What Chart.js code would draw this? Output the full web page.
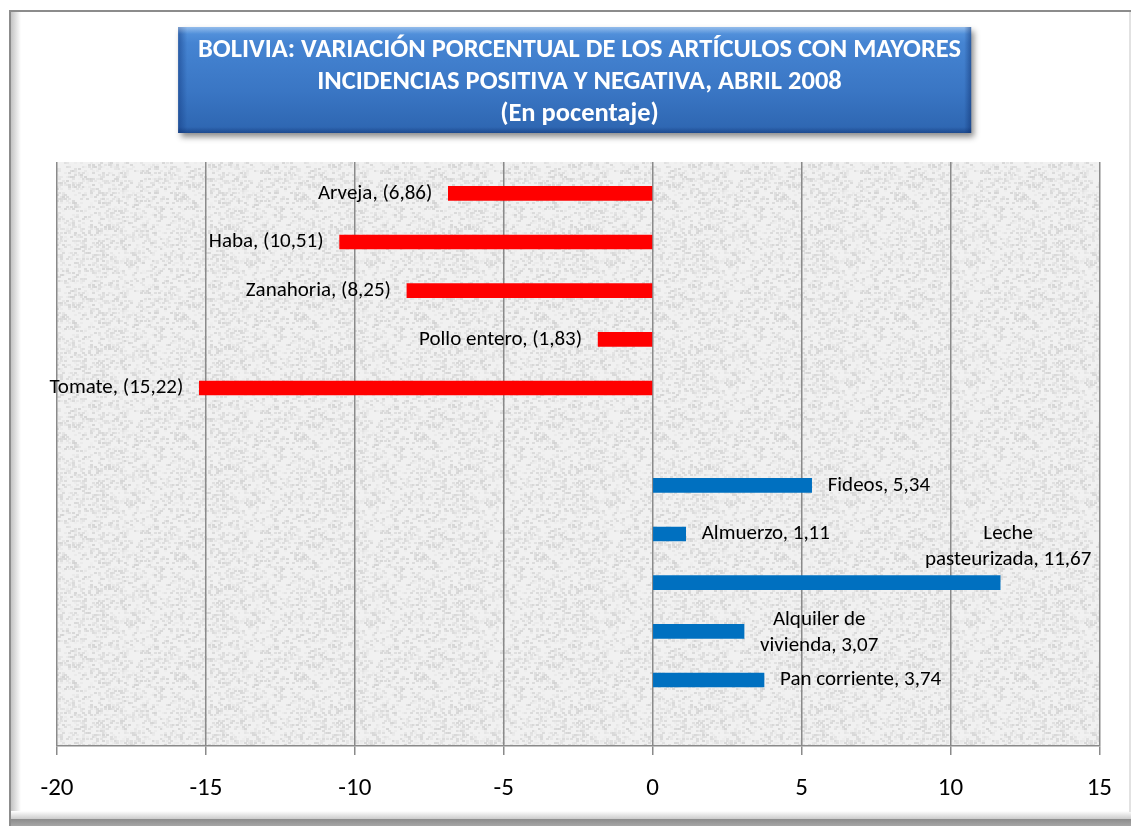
<!DOCTYPE html>
<html>
<head>
<meta charset="utf-8">
<title>Bolivia - variación porcentual abril 2008</title>
<script src="https://cdn.jsdelivr.net/npm/chart.js@4.4.1/dist/chart.umd.min.js"></script>
<style>
  html, body { margin: 0; padding: 0; background: #fff; overflow: hidden; }
  #wrap { width: 1131px; height: 826px; position: relative; }
</style>
</head>
<body>
<div id="wrap"><canvas id="barChart" width="1131" height="826"></canvas></div>
<script>
// rows top to bottom as in the sheet ('' = empty row)
var categories = ['Arveja', 'Haba', 'Zanahoria', 'Pollo entero', 'Tomate', '',
  'Fideos', 'Almuerzo', ['Leche', 'pasteurizada'], ['Alquiler de', 'vivienda'], 'Pan corriente', ''];
var variation = [-6.86, -10.51, -8.25, -1.83, -15.22, null, 5.34, 1.11, 11.67, 3.07, 3.74, null];
var xTicks = [-20, -15, -10, -5, 0, 5, 10, 15];
var titleLines = [
  'BOLIVIA: VARIACIÓN PORCENTUAL DE LOS ARTÍCULOS CON MAYORES',
  'INCIDENCIAS POSITIVA Y NEGATIVA, ABRIL 2008',
  '(En pocentaje)'
];

var FONT = 'Calibri, Carlito, Lato, sans-serif';
var RED = '#ff0000', BLUE = '#0070c0';

function fmt(v) {
  var s = Math.abs(v).toFixed(2).replace('.', ',');
  return v < 0 ? '(' + s + ')' : s;
}

// grey "paper" texture for the plot area (fixed hash, no randomness)
function paperPattern(ctx) {
  var c = document.createElement('canvas');
  c.width = 120; c.height = 120;
  var p = c.getContext('2d');
  p.fillStyle = '#f1f1f1';
  p.fillRect(0, 0, 120, 120);
  for (var y = 0; y < 120; y += 2) {
    for (var x = 0; x < 120; x += 2) {
      var hsh = Math.sin(x * 12.9898 + y * 78.233) * 43758.5453;
      hsh = hsh - Math.floor(hsh);
      if (hsh < 0.35) {
        var g = 208 + Math.floor(hsh * 90);
        p.fillStyle = 'rgba(' + g + ',' + g + ',' + g + ',0.8)';
        p.fillRect(x, y, 3, 2);
      }
    }
  }
  return ctx.createPattern(c, 'repeat');
}

// white page, bevelled outer frame, textured plot area, blue title box
var backdrop = {
  id: 'backdrop',
  beforeDraw: function(chart) {
    var ctx = chart.ctx, w = chart.width, h = chart.height, a = chart.chartArea;
    ctx.save();
    ctx.fillStyle = '#fff';
    ctx.fillRect(0, 0, w, h);

    ctx.fillStyle = '#8c8c8c';
    ctx.fillRect(9, 10, w - 9, 2);
    ctx.fillRect(9, 10, 2, h - 10);
    var gl = ctx.createLinearGradient(11, 0, 21, 0);
    gl.addColorStop(0, '#c4c4c4');
    gl.addColorStop(1, '#ffffff');
    ctx.fillStyle = gl;
    ctx.fillRect(11, 12, 10, h - 24);
    var gb = ctx.createLinearGradient(0, 811, 0, h);
    gb.addColorStop(0, '#ffffff');
    gb.addColorStop(0.5, '#cfcfcf');
    gb.addColorStop(0.53, '#8c8c8c');
    gb.addColorStop(1, '#a6a6a6');
    ctx.fillStyle = gb;
    ctx.fillRect(11, 811, w - 11, h - 811);
    ctx.fillStyle = '#e2e2e2';
    ctx.fillRect(w - 2, 12, 2, 800);

    // plot area
    ctx.fillStyle = paperPattern(ctx);
    ctx.fillRect(a.left, a.top, a.right - a.left, a.bottom - a.top);

    // title box
    var cx = (a.left + a.right) / 2 - 4;
    var bx = cx - 396, by = 27, bw = 793, bh = 106;
    ctx.save();
    ctx.shadowColor = 'rgba(0,0,0,0.45)';
    ctx.shadowBlur = 6;
    ctx.shadowOffsetX = 3;
    ctx.shadowOffsetY = 4;
    var gt = ctx.createLinearGradient(0, by, 0, by + bh);
    gt.addColorStop(0, '#5a98e0');
    gt.addColorStop(0.15, '#4584d2');
    gt.addColorStop(0.6, '#3a76c4');
    gt.addColorStop(1, '#2d65b0');
    ctx.fillStyle = gt;
    ctx.fillRect(bx, by, bw, bh);
    ctx.restore();
    var e = ctx.createLinearGradient(bx, 0, bx + 9, 0);
    e.addColorStop(0, 'rgba(20,60,130,0.55)');
    e.addColorStop(1, 'rgba(20,60,130,0)');
    ctx.fillStyle = e;
    ctx.fillRect(bx, by, 9, bh);
    var t = ctx.createLinearGradient(0, by, 0, by + 7);
    t.addColorStop(0, 'rgba(255,255,255,0.35)');
    t.addColorStop(1, 'rgba(255,255,255,0)');
    ctx.fillStyle = t;
    ctx.fillRect(bx, by, bw, 7);
    var r = ctx.createLinearGradient(bx + bw - 7, 0, bx + bw, 0);
    r.addColorStop(0, 'rgba(10,40,100,0)');
    r.addColorStop(1, 'rgba(10,40,100,0.45)');
    ctx.fillStyle = r;
    ctx.fillRect(bx + bw - 7, by, 7, bh);
    var b = ctx.createLinearGradient(0, by + bh - 6, 0, by + bh);
    b.addColorStop(0, 'rgba(10,40,100,0)');
    b.addColorStop(1, 'rgba(10,40,100,0.45)');
    ctx.fillStyle = b;
    ctx.fillRect(bx, by + bh - 6, bw, 6);
    ctx.restore();
  }
};

// "Nombre, valor" next to each bar
var barLabels = {
  id: 'barLabels',
  afterDatasetsDraw: function(chart, args, opts) {
    var ctx = chart.ctx;
    var meta = chart.getDatasetMeta(1);
    ctx.save();
    ctx.font = opts.size + 'px ' + FONT;
    ctx.fillStyle = '#000';
    ctx.textBaseline = 'middle';
    meta.data.forEach(function(bar, i) {
      var v = variation[i];
      if (v === null || v === undefined) return;
      var lines = Array.isArray(categories[i]) ? categories[i].slice() : [categories[i]];
      lines[lines.length - 1] += ', ' + fmt(v);
      if (lines.length === 1) {
        ctx.textAlign = v < 0 ? 'right' : 'left';
        ctx.fillText(lines[0], bar.x + (v < 0 ? -opts.gap : opts.gap), bar.y);
        return;
      }
      var w = Math.max.apply(null, lines.map(function(l) { return ctx.measureText(l).width; }));
      var cx, cy;
      if (opts.above.indexOf(i) >= 0) {
        cx = bar.x + 8;
        cy = bar.y - 36;
      } else {
        cx = bar.x + opts.gap + w / 2;
        cy = bar.y + 1;
      }
      ctx.textAlign = 'center';
      lines.forEach(function(l, k) {
        ctx.fillText(l, cx, cy + (k - (lines.length - 1) / 2) * opts.lineHeight);
      });
    });
    ctx.restore();
  }
};

var ctx = document.getElementById('barChart').getContext('2d');
var myChart = new Chart(ctx, {
  type: 'bar',
  data: {
    labels: categories,
    datasets: [
      // empty first series keeps the bars in the lower half of each row, as in the original
      { label: '', data: [] },
      {
        label: 'Variación',
        data: variation,
        backgroundColor: variation.map(function(v) { return v < 0 ? RED : BLUE; }),
        barThickness: 14
      }
    ]
  },
  plugins: [backdrop, barLabels],
  options: {
    indexAxis: 'y',
    responsive: false,
    animation: false,
    devicePixelRatio: 1,
    layout: { padding: { left: 57, right: 29, top: 0, bottom: 3 } },
    plugins: {
      legend: { display: false },
      tooltip: { enabled: false },
      title: {
        display: true,
        text: titleLines,
        color: '#ffffff',
        font: { family: FONT, size: 26.5, weight: 'bold', lineHeight: 32 / 26.5 },
        padding: { top: 34, bottom: 32 }
      },
      barLabels: { size: 21, gap: 16, lineHeight: 26, above: [8] }
    },
    scales: {
      x: {
        type: 'linear',
        min: -20,
        max: 15,
        afterBuildTicks: function(scale) {
          scale.ticks = xTicks.map(function(v) { return { value: v }; });
        },
        grid: { color: '#8a8a8a', lineWidth: 1.5, tickLength: 9, tickColor: '#8a8a8a' },
        border: { color: '#8a8a8a', width: 1.5 },
        ticks: { color: '#000', padding: 19, font: { family: FONT, size: 25 } }
      },
      y: {
        display: false,
        grid: { display: false }
      }
    }
  }
});
</script>
</body>
</html>
